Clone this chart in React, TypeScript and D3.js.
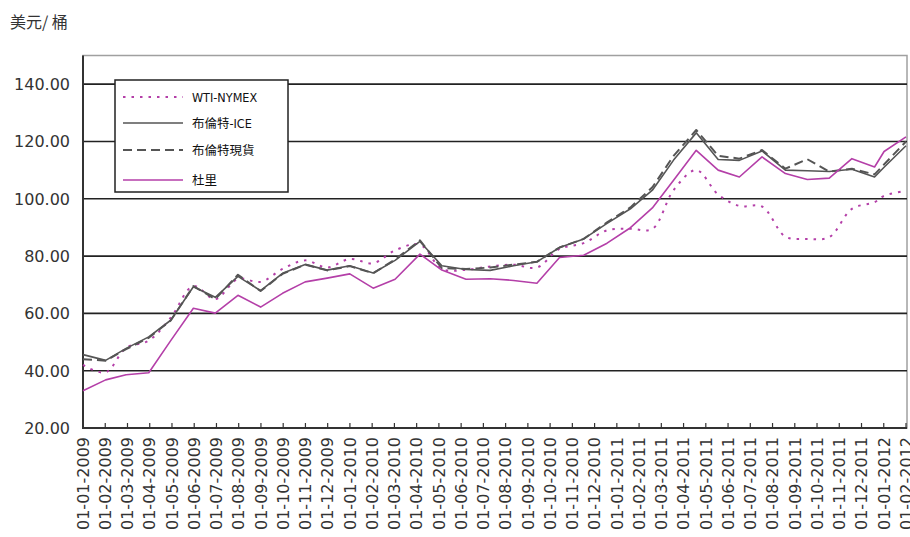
import React, { useEffect, useRef } from 'react';
import * as d3 from 'd3';

// category labels on the x axis
const dates = [
  '01-01-2009', '01-02-2009', '01-03-2009', '01-04-2009', '01-05-2009', '01-06-2009',
  '01-07-2009', '01-08-2009', '01-09-2009', '01-10-2009', '01-11-2009', '01-12-2009',
  '01-01-2010', '01-02-2010', '01-03-2010', '01-04-2010', '01-05-2010', '01-06-2010',
  '01-07-2010', '01-08-2010', '01-09-2010', '01-10-2010', '01-11-2010', '01-12-2010',
  '01-01-2011', '01-02-2011', '01-03-2011', '01-04-2011', '01-05-2011', '01-06-2011',
  '01-07-2011', '01-08-2011', '01-09-2011', '01-10-2011', '01-11-2011', '01-12-2011',
  '01-01-2012', '01-02-2012',
];

// dates the price points sit on (the later ones fall after the 1st of the month)
const obsDates = [
  '2009-01-01', '2009-02-01', '2009-03-01', '2009-04-01', '2009-05-01', '2009-06-01',
  '2009-07-01', '2009-08-01', '2009-09-01', '2009-10-01', '2009-11-01', '2009-12-01',
  '2010-01-01', '2010-02-02', '2010-03-04', '2010-04-07', '2010-05-07', '2010-06-09',
  '2010-07-12', '2010-08-13', '2010-09-14', '2010-10-15', '2010-11-17', '2010-12-19',
  '2011-01-20', '2011-02-19', '2011-03-20', '2011-04-20', '2011-05-20', '2011-06-18',
  '2011-07-19', '2011-08-20', '2011-09-19', '2011-10-19', '2011-11-19', '2011-12-20',
  '2012-01-02', '2012-02-01',
];

const wti = [
  42.0, 39.4, 48.0, 50.5, 58.5, 69.5, 65.0, 72.0, 71.0, 75.5, 78.5, 76.0,
  79.0, 77.5, 82.0, 84.0, 75.5, 75.2, 76.4, 77.0, 76.0, 82.5, 84.5, 89.0,
  89.5, 89.5, 103.0, 110.0, 101.5, 97.5, 97.3, 86.8, 86.0, 86.6, 96.5, 98.8,
  101.0, 102.8,
];

const brentIce = [
  45.6, 43.6, 47.8, 51.8, 57.6, 69.3, 65.6, 72.9, 67.9, 74.0, 77.1, 75.1,
  76.6, 74.1, 78.5, 85.1, 76.6, 75.3, 75.0, 76.6, 78.0, 83.0, 86.0, 91.4,
  96.5, 103.0, 113.5, 123.0, 113.7, 113.4, 116.7, 110.0, 109.8, 109.5, 110.3, 107.6,
  111.0, 118.5,
];

const brentSpot = [
  44.0, 43.5, 47.5, 51.5, 57.5, 69.5, 65.0, 73.5, 67.8, 73.8, 77.0, 75.0,
  76.5, 74.0, 78.8, 85.5, 75.8, 75.5, 76.0, 77.0, 78.0, 83.0, 86.0, 91.8,
  97.0, 104.0, 115.0, 124.0, 115.0, 114.0, 117.0, 110.5, 113.8, 109.5, 110.5, 108.5,
  112.0, 120.0,
];

const dubai = [
  33.0, 36.8, 38.6, 39.3, 50.5, 61.8, 60.1, 66.3, 62.2, 67.0, 71.0, 72.3,
  73.8, 68.8, 71.9, 80.7, 75.1, 71.9, 72.1, 71.5, 70.5, 79.5, 80.3, 84.5,
  89.9, 96.8, 106.5, 116.9, 110.0, 107.6, 114.6, 108.8, 106.7, 107.2, 114.0, 111.1,
  116.5, 121.6,
];

const yTicks = [20, 40, 60, 80, 100, 120, 140];

const legendNames = ['WTI-NYMEX', '布倫特-ICE', '布倫特現貨', '杜里'];

const App = () => {
  const svgRef = useRef<SVGSVGElement>(null);

  useEffect(() => {
    if (!svgRef.current) return;
    const svg = d3.select(svgRef.current);
    svg.selectAll('*').remove();

    const left = 83;
    const right = 906;
    const top = 55.5;
    const bottom = 428;

    const parse = d3.utcParse('%Y-%m-%d');
    const x = d3.scalePoint<string>().domain(dates).range([left, right]);
    const xt = d3.scaleUtc()
      .domain([parse(obsDates[0])!, parse(obsDates[obsDates.length - 1])!])
      .range([left, right]);
    const y = d3.scaleLinear().domain([20, 150]).range([bottom, top]);

    // plot frame
    svg.append('rect')
      .attr('x', left).attr('y', top)
      .attr('width', right - left + 1).attr('height', bottom - top)
      .attr('fill', 'none').attr('stroke', '#a0a0a0').attr('stroke-width', 1.5);

    // gridlines
    svg.append('g').selectAll('line')
      .data(yTicks.filter(d => d > 20))
      .join('line')
      .attr('x1', left).attr('x2', right + 1)
      .attr('y1', d => y(d)).attr('y2', d => y(d))
      .attr('stroke', '#222').attr('stroke-width', 1.6);

    // axes
    svg.append('line').attr('x1', left).attr('x2', left).attr('y1', top).attr('y2', bottom + 1)
      .attr('stroke', '#333').attr('stroke-width', 2);
    svg.append('line').attr('x1', left).attr('x2', right + 1).attr('y1', bottom).attr('y2', bottom)
      .attr('stroke', '#333').attr('stroke-width', 2);

    svg.append('g').selectAll('line')
      .data(dates.slice(1))
      .join('line')
      .attr('x1', d => x(d)!).attr('x2', d => x(d)!)
      .attr('y1', bottom).attr('y2', bottom - 5)
      .attr('stroke', '#333').attr('stroke-width', 1.2);

    // y labels
    svg.append('g').selectAll('text')
      .data(yTicks)
      .join('text')
      .attr('x', 70).attr('y', d => y(d) + 6)
      .attr('text-anchor', 'end')
      .attr('font-family', 'DejaVu Sans')
      .attr('font-size', 16)
      .attr('fill', '#333')
      .text(d => d.toFixed(2));

    // x labels
    svg.append('g').selectAll('text')
      .data(dates)
      .join('text')
      .attr('transform', d => `translate(${x(d)},${bottom + 9}) rotate(-90)`)
      .attr('text-anchor', 'end')
      .attr('dy', '0.36em')
      .attr('font-family', 'DejaVu Sans')
      .attr('font-size', 16)
      .attr('fill', '#333')
      .text(d => d);

    // title
    svg.append('text')
      .attr('x', 10).attr('y', 28)
      .attr('font-family', 'Noto Sans CJK TC')
      .attr('font-size', 16)
      .attr('fill', '#333')
      .text('美元/ 桶');

    const magenta = '#b43fa8';
    const gray = '#555';

    const series = [
      { data: wti, color: magenta, dash: '2.5,6', width: 2, curve: d3.curveCatmullRom },
      { data: brentIce, color: gray, dash: null, width: 1.6, curve: d3.curveLinear },
      { data: brentSpot, color: gray, dash: '9,5', width: 2, curve: d3.curveLinear },
      { data: dubai, color: magenta, dash: null, width: 1.6, curve: d3.curveLinear },
    ];

    series.forEach(s => {
      const line = d3.line<number>()
        .x((_, i) => xt(parse(obsDates[i])!))
        .y(d => y(d))
        .curve(s.curve);
      svg.append('path')
        .attr('d', line(s.data))
        .attr('fill', 'none')
        .attr('stroke', s.color)
        .attr('stroke-width', s.width)
        .attr('stroke-dasharray', s.dash)
        .attr('stroke-linejoin', 'round');
    });

    // legend
    const lg = svg.append('g');
    lg.append('rect')
      .attr('x', 115).attr('y', 80).attr('width', 173).attr('height', 112)
      .attr('fill', '#fff').attr('stroke', '#222').attr('stroke-width', 1.5);
    const rowY = [97, 123, 150, 180];
    series.forEach((s, i) => {
      lg.append('line')
        .attr('x1', 123).attr('x2', 183)
        .attr('y1', rowY[i]).attr('y2', rowY[i])
        .attr('stroke', s.color)
        .attr('stroke-width', s.width)
        .attr('stroke-dasharray', s.dash);
      lg.append('text')
        .attr('x', 192).attr('y', rowY[i] + 4.5)
        .attr('font-family', '"DejaVu Sans Condensed", "Noto Sans CJK TC"')
        .attr('font-size', 12.5)
        .attr('fill', '#111')
        .text(legendNames[i]);
    });
  }, []);

  return (
    <svg
      ref={svgRef}
      width={910}
      height={537}
      style={{ position: 'absolute', left: 0, top: 0, background: '#fff' }}
    />
  );
};

export default App;
